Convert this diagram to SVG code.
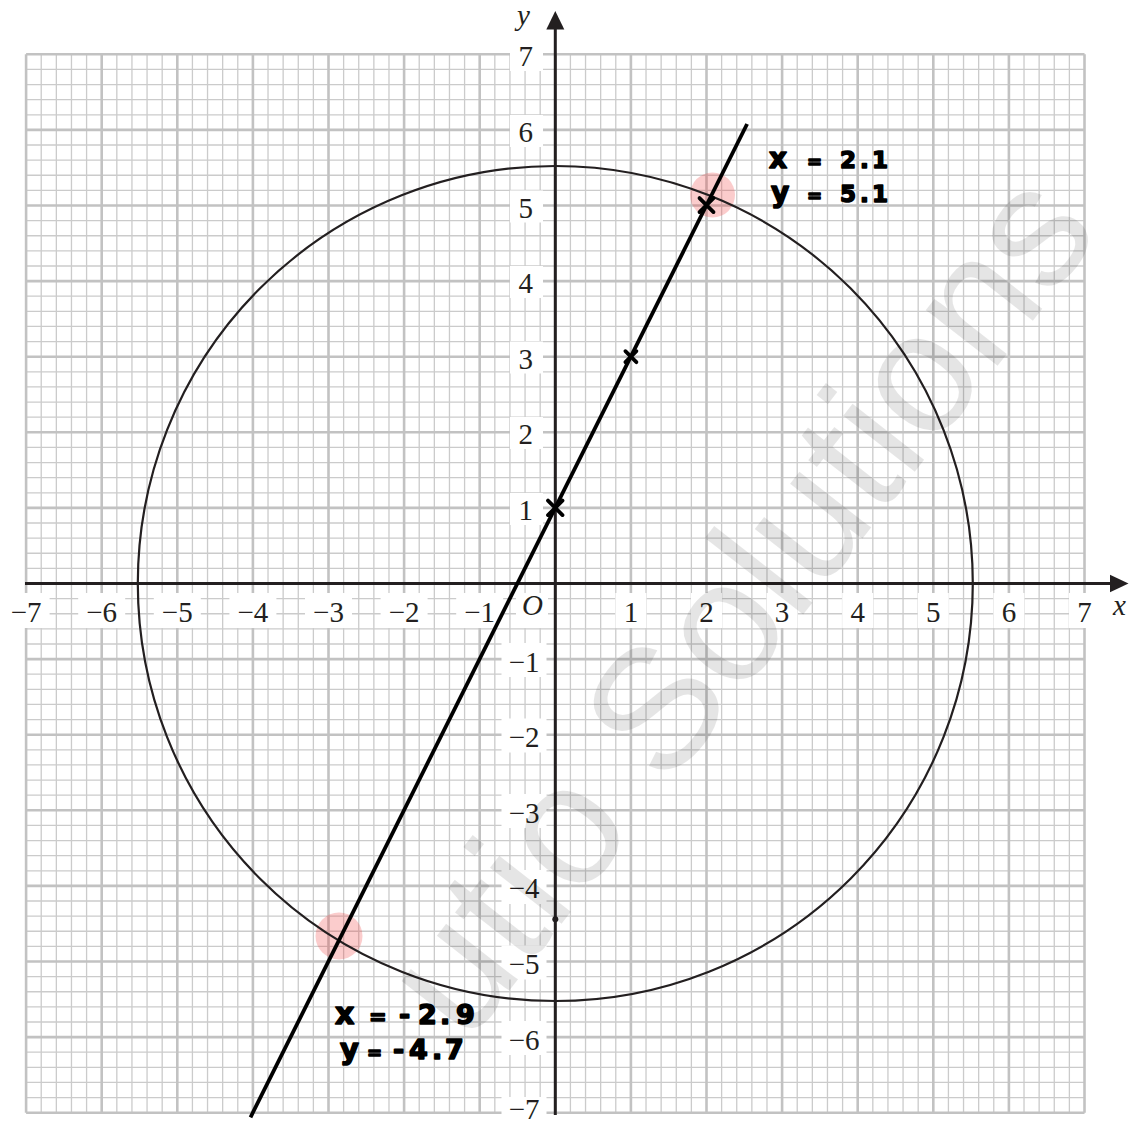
<svg xmlns="http://www.w3.org/2000/svg" width="1135" height="1126" viewBox="0 0 1135 1126">
<style>
.minor{stroke:#cbcbcb;stroke-width:1.3;fill:none}
.major{stroke:#c2c2c2;stroke-width:2.6;fill:none}
.ax{stroke:#231f20;stroke-width:3;fill:none}
.lbl{font-family:"Liberation Serif","Times New Roman",serif;font-size:29px;fill:#231f20}
.it{font-style:italic}
.box{fill:#ffffff}
.hand{font-family:"DejaVu Sans",sans-serif;font-weight:bold;fill:#000;stroke:#000;stroke-width:1.6;stroke-linejoin:round}
.mark{stroke:#000;stroke-width:3.8;stroke-linecap:round;fill:none}
.hl{fill:#ee3333;fill-opacity:0.25}
</style>
<rect width="1135" height="1126" fill="#ffffff"/>
<g id="grid">
<path class="minor" d="M41.22 54.3v1058.4M56.34 54.3v1058.4M71.46 54.3v1058.4M86.58 54.3v1058.4M116.82 54.3v1058.4M131.94 54.3v1058.4M147.06 54.3v1058.4M162.18 54.3v1058.4M192.42 54.3v1058.4M207.54 54.3v1058.4M222.66 54.3v1058.4M237.78 54.3v1058.4M268.02 54.3v1058.4M283.14 54.3v1058.4M298.26 54.3v1058.4M313.38 54.3v1058.4M343.62 54.3v1058.4M358.74 54.3v1058.4M373.86 54.3v1058.4M388.98 54.3v1058.4M419.22 54.3v1058.4M434.34 54.3v1058.4M449.46 54.3v1058.4M464.58 54.3v1058.4M494.82 54.3v1058.4M509.94 54.3v1058.4M525.06 54.3v1058.4M540.18 54.3v1058.4M570.42 54.3v1058.4M585.54 54.3v1058.4M600.66 54.3v1058.4M615.78 54.3v1058.4M646.02 54.3v1058.4M661.14 54.3v1058.4M676.26 54.3v1058.4M691.38 54.3v1058.4M721.62 54.3v1058.4M736.74 54.3v1058.4M751.86 54.3v1058.4M766.98 54.3v1058.4M797.22 54.3v1058.4M812.34 54.3v1058.4M827.46 54.3v1058.4M842.58 54.3v1058.4M872.82 54.3v1058.4M887.94 54.3v1058.4M903.06 54.3v1058.4M918.18 54.3v1058.4M948.42 54.3v1058.4M963.54 54.3v1058.4M978.66 54.3v1058.4M993.78 54.3v1058.4M1024.02 54.3v1058.4M1039.14 54.3v1058.4M1054.26 54.3v1058.4M1069.38 54.3v1058.4"/>
<path class="minor" d="M26.1 69.42h1058.4M26.1 84.54h1058.4M26.1 99.66h1058.4M26.1 114.78h1058.4M26.1 145.02h1058.4M26.1 160.14h1058.4M26.1 175.26h1058.4M26.1 190.38h1058.4M26.1 220.62h1058.4M26.1 235.74h1058.4M26.1 250.86h1058.4M26.1 265.98h1058.4M26.1 296.22h1058.4M26.1 311.34h1058.4M26.1 326.46h1058.4M26.1 341.58h1058.4M26.1 371.82h1058.4M26.1 386.94h1058.4M26.1 402.06h1058.4M26.1 417.18h1058.4M26.1 447.42h1058.4M26.1 462.54h1058.4M26.1 477.66h1058.4M26.1 492.78h1058.4M26.1 523.02h1058.4M26.1 538.14h1058.4M26.1 553.26h1058.4M26.1 568.38h1058.4M26.1 598.62h1058.4M26.1 613.74h1058.4M26.1 628.86h1058.4M26.1 643.98h1058.4M26.1 674.22h1058.4M26.1 689.34h1058.4M26.1 704.46h1058.4M26.1 719.58h1058.4M26.1 749.82h1058.4M26.1 764.94h1058.4M26.1 780.06h1058.4M26.1 795.18h1058.4M26.1 825.42h1058.4M26.1 840.54h1058.4M26.1 855.66h1058.4M26.1 870.78h1058.4M26.1 901.02h1058.4M26.1 916.14h1058.4M26.1 931.26h1058.4M26.1 946.38h1058.4M26.1 976.62h1058.4M26.1 991.74h1058.4M26.1 1006.86h1058.4M26.1 1021.98h1058.4M26.1 1052.22h1058.4M26.1 1067.34h1058.4M26.1 1082.46h1058.4M26.1 1097.58h1058.4"/>
<path class="major" d="M26.1 54.3v1058.4M101.7 54.3v1058.4M177.3 54.3v1058.4M252.9 54.3v1058.4M328.5 54.3v1058.4M404.1 54.3v1058.4M479.7 54.3v1058.4M555.3 54.3v1058.4M630.9 54.3v1058.4M706.5 54.3v1058.4M782.1 54.3v1058.4M857.7 54.3v1058.4M933.3 54.3v1058.4M1008.9 54.3v1058.4M1084.5 54.3v1058.4"/>
<path class="major" d="M26.1 54.3h1058.4M26.1 129.9h1058.4M26.1 205.5h1058.4M26.1 281.1h1058.4M26.1 356.7h1058.4M26.1 432.3h1058.4M26.1 507.9h1058.4M26.1 583.5h1058.4M26.1 659.1h1058.4M26.1 734.7h1058.4M26.1 810.3h1058.4M26.1 885.9h1058.4M26.1 961.5h1058.4M26.1 1037.1h1058.4M26.1 1112.7h1058.4"/>
</g>
<g id="label-boxes">
<rect class="box" x="510" y="39" width="33" height="32"/>
<rect class="box" x="510" y="115" width="33" height="32"/>
<rect class="box" x="510" y="190.5" width="33" height="32"/>
<rect class="box" x="510" y="266" width="33" height="32"/>
<rect class="box" x="510" y="341.5" width="33" height="32"/>
<rect class="box" x="510" y="417" width="33" height="32"/>
<rect class="box" x="510" y="493" width="33" height="32"/>
<rect class="box" x="501.5" y="643" width="45" height="34"/>
<rect class="box" x="501.5" y="718.5" width="45" height="34"/>
<rect class="box" x="501.5" y="794" width="45" height="34"/>
<rect class="box" x="501.5" y="870" width="45" height="34"/>
<rect class="box" x="501.5" y="945.5" width="45" height="34"/>
<rect class="box" x="501.5" y="1021" width="45" height="34"/>
<rect class="box" x="501.5" y="1097" width="45" height="34"/>
<rect class="box" x="2.6" y="593" width="47" height="35"/>
<rect class="box" x="78.2" y="593" width="47" height="35"/>
<rect class="box" x="153.8" y="593" width="47" height="35"/>
<rect class="box" x="229.4" y="593" width="47" height="35"/>
<rect class="box" x="305" y="593" width="47" height="35"/>
<rect class="box" x="380.6" y="593" width="47" height="35"/>
<rect class="box" x="456.2" y="593" width="47" height="35"/>
<rect class="box" x="516" y="593" width="32" height="35"/>
<rect class="box" x="615.4" y="593" width="31" height="35"/>
<rect class="box" x="691" y="593" width="31" height="35"/>
<rect class="box" x="766.6" y="593" width="31" height="35"/>
<rect class="box" x="842.2" y="593" width="31" height="35"/>
<rect class="box" x="917.8" y="593" width="31" height="35"/>
<rect class="box" x="993.4" y="593" width="31" height="35"/>
<rect class="box" x="1069" y="593" width="31" height="35"/>
</g>
<g id="highlights">
<circle class="hl" cx="712.5" cy="195" r="22.5"/>
<circle class="hl" cx="339" cy="936" r="23.5"/>
</g>
<g id="axes">
<path class="ax" d="M25 583.5H1112"/>
<polygon points="1128.5,583.5 1110,574.8 1110,592.2" fill="#231f20"/>
<path class="ax" d="M555.3 1115V28"/>
<polygon points="555.3,11 546.3,29.5 564.3,29.5" fill="#231f20"/>
<circle cx="555.3" cy="919.3" r="3" fill="#231f20"/>
</g>
<g id="labels" class="lbl">
<text class="it" x="517" y="25">y</text>
<text class="it" x="1113" y="615">x</text>
<text class="it" x="522" y="615">O</text>
<g text-anchor="end">
<text x="533" y="66.3">7</text>
<text x="533" y="141.9">6</text>
<text x="533" y="217.5">5</text>
<text x="533" y="293.1">4</text>
<text x="533" y="368.7">3</text>
<text x="533" y="444.3">2</text>
<text x="533" y="519.9">1</text>
<text x="539.5" y="671.6">−1</text>
<text x="539.5" y="747.2">−2</text>
<text x="539.5" y="822.8">−3</text>
<text x="539.5" y="898.4">−4</text>
<text x="539.5" y="974">−5</text>
<text x="539.5" y="1049.6">−6</text>
<text x="539.5" y="1119">−7</text>
</g>
<g text-anchor="middle">
<text x="26.1" y="621.5">−7</text>
<text x="101.7" y="621.5">−6</text>
<text x="177.3" y="621.5">−5</text>
<text x="252.9" y="621.5">−4</text>
<text x="328.5" y="621.5">−3</text>
<text x="404.1" y="621.5">−2</text>
<text x="479.7" y="621.5">−1</text>
<text x="630.9" y="621.5">1</text>
<text x="706.5" y="621.5">2</text>
<text x="782.1" y="621.5">3</text>
<text x="857.7" y="621.5">4</text>
<text x="933.3" y="621.5">5</text>
<text x="1008.9" y="621.5">6</text>
<text x="1084.5" y="621.5">7</text>
</g>
</g>
<g id="circle">
<circle cx="555.3" cy="583.5" r="417.5" fill="none" stroke="#231f20" stroke-width="2.2"/>
</g>
<g id="line">
<path d="M250.5 1117.3L747.1 124" stroke="#000" stroke-width="3.8" fill="none"/>
</g>
<g id="points">
<path class="mark" d="M548 500.6l14.5 14.5M548 515.1l14.5 -14.5"/>
<path class="mark" d="M625.4 351.2l11 11M625.4 362.2l11 -11"/>
<path class="mark" d="M699.5 198.1l14 14M699.5 212.1l14 -14"/>
</g>
<g id="annotations">
<text class="hand" y="168" font-size="23"><tspan x="769" font-size="28">x </tspan><tspan x="807" font-size="18">= </tspan><tspan x="840">2</tspan><tspan x="860">.</tspan><tspan x="872">1</tspan></text>
<text class="hand" y="202" font-size="23"><tspan x="771" font-size="28">y </tspan><tspan x="807" font-size="18">= </tspan><tspan x="840">5</tspan><tspan x="860">.</tspan><tspan x="872">1</tspan></text>
<text class="hand" y="1024" font-size="27"><tspan x="335" font-size="30">x </tspan><tspan x="369" font-size="21">= </tspan><tspan x="399">- </tspan><tspan x="418">2</tspan><tspan x="440">.</tspan><tspan x="456">9</tspan></text>
<text class="hand" y="1059" font-size="27"><tspan x="340" font-size="29">y </tspan><tspan x="367" font-size="18">= </tspan><tspan x="393">- </tspan><tspan x="409">4</tspan><tspan x="432">.</tspan><tspan x="445">7</tspan></text>
</g>
<g id="watermark">
<text transform="translate(1102 232) rotate(-52)" text-anchor="end" font-family="Liberation Sans, Arial, sans-serif" font-size="172" fill="#000" fill-opacity="0.1">utio Solutions</text>
</g>
</svg>
